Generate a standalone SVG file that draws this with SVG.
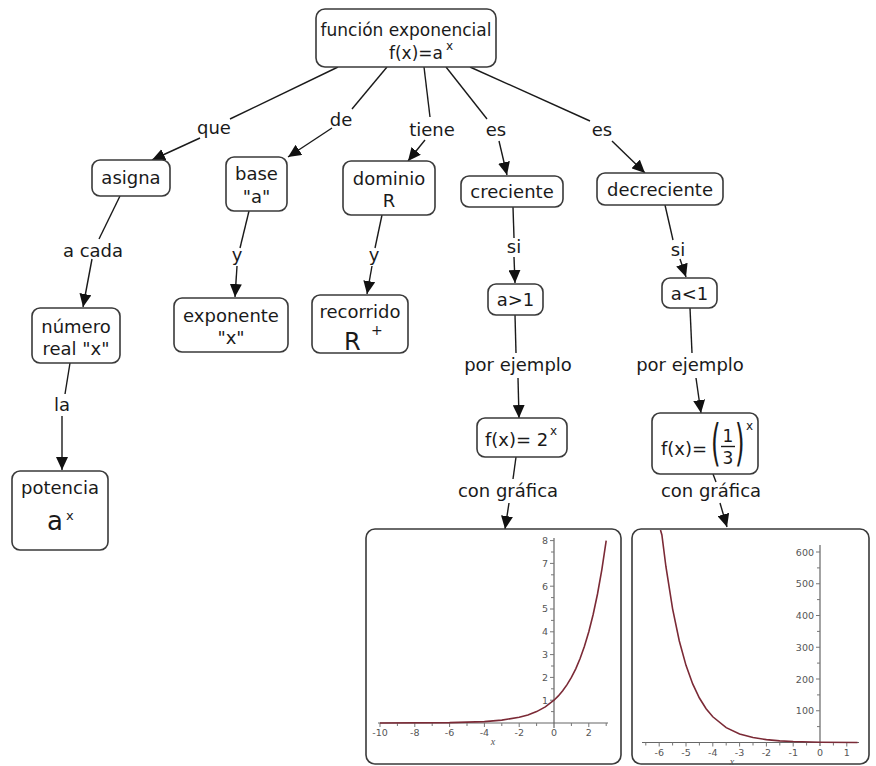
<svg xmlns="http://www.w3.org/2000/svg" width="876" height="766" viewBox="0 0 876 766">
  <defs>
    <marker id="arrow" markerUnits="userSpaceOnUse" markerWidth="14" markerHeight="12" refX="13" refY="6" orient="auto">
      <path d="M0,0 L13,6 L0,12 Z" fill="#111"/>
    </marker>
    <clipPath id="clipGrow"><rect x="367" y="530" width="254" height="233"/></clipPath>
    <clipPath id="clipDecay"><rect x="633" y="530" width="236" height="233"/></clipPath>
    <style>
      .box { fill: #fff; stroke: #3a3a3a; stroke-width: 1.6; }
      .t { font-family: "DejaVu Sans", Verdana, sans-serif; font-size: 18px; fill: #1a1a1a; }
      .c { text-anchor: middle; }
      .sup { font-family: "DejaVu Sans", Verdana, sans-serif; font-size: 12px; fill: #1a1a1a; }
      .lbl { font-family: "DejaVu Sans", Verdana, sans-serif; font-size: 18px; fill: #1a1a1a; text-anchor: middle; }
      .link { stroke: #1a1a1a; stroke-width: 1.4; fill: none; }
      .axis { stroke: #666; stroke-width: 1.2; fill: none; }
      .tick { stroke: #777; stroke-width: 1; fill: none; }
      .num { font-family: "DejaVu Sans", Verdana, sans-serif; font-size: 9.5px; fill: #555; }
      .curve { stroke: #7b2a36; stroke-width: 1.6; fill: none; }
    </style>
  </defs>
  <rect width="876" height="766" fill="#fff"/>

  <!-- connectors -->
  <g id="connectors">
    <line class="link" x1="338" y1="67" x2="230" y2="119"/>
    <line class="link" x1="200" y1="138" x2="152" y2="160" marker-end="url(#arrow)"/>
    <line class="link" x1="387" y1="67" x2="352" y2="109"/>
    <line class="link" x1="332" y1="128" x2="288" y2="157" marker-end="url(#arrow)"/>
    <line class="link" x1="424" y1="67" x2="430" y2="117"/>
    <line class="link" x1="425" y1="140" x2="408" y2="161" marker-end="url(#arrow)"/>
    <line class="link" x1="446" y1="67" x2="487" y2="119"/>
    <line class="link" x1="499" y1="141" x2="507" y2="175" marker-end="url(#arrow)"/>
    <line class="link" x1="470" y1="67" x2="590" y2="121"/>
    <line class="link" x1="612" y1="141" x2="645" y2="173" marker-end="url(#arrow)"/>

    <line class="link" x1="120" y1="196" x2="99" y2="239"/>
    <line class="link" x1="92" y1="259" x2="83" y2="307" marker-end="url(#arrow)"/>
    <line class="link" x1="70" y1="363" x2="65" y2="394"/>
    <line class="link" x1="62" y1="416" x2="62" y2="470" marker-end="url(#arrow)"/>
    <line class="link" x1="249" y1="211" x2="240" y2="248"/>
    <line class="link" x1="237" y1="266" x2="235" y2="297" marker-end="url(#arrow)"/>
    <line class="link" x1="382" y1="215" x2="375" y2="248"/>
    <line class="link" x1="372" y1="266" x2="367" y2="294" marker-end="url(#arrow)"/>
    <line class="link" x1="513" y1="207" x2="514" y2="238"/>
    <line class="link" x1="514" y1="257" x2="515" y2="283" marker-end="url(#arrow)"/>
    <line class="link" x1="665" y1="205" x2="673" y2="240"/>
    <line class="link" x1="680" y1="259" x2="686" y2="277" marker-end="url(#arrow)"/>
    <line class="link" x1="515" y1="315" x2="516" y2="353"/>
    <line class="link" x1="518" y1="378" x2="519" y2="418" marker-end="url(#arrow)"/>
    <line class="link" x1="690" y1="308" x2="692" y2="353"/>
    <line class="link" x1="696" y1="378" x2="701" y2="413" marker-end="url(#arrow)"/>
    <line class="link" x1="516" y1="457" x2="513" y2="479"/>
    <line class="link" x1="509" y1="503" x2="505" y2="529" marker-end="url(#arrow)"/>
    <line class="link" x1="713" y1="474" x2="716" y2="482"/>
    <line class="link" x1="720" y1="503" x2="727" y2="527" marker-end="url(#arrow)"/>
  </g>

  <!-- linking phrases -->
  <g id="link-labels">
    <text class="lbl" x="214" y="134">que</text>
    <text class="lbl" x="341" y="126">de</text>
    <text class="lbl" x="432" y="136">tiene</text>
    <text class="lbl" x="496" y="136">es</text>
    <text class="lbl" x="602" y="136">es</text>
    <text class="lbl" x="93" y="257">a cada</text>
    <text class="lbl" x="62" y="411">la</text>
    <text class="lbl" x="237" y="261">y</text>
    <text class="lbl" x="374" y="261">y</text>
    <text class="lbl" x="514" y="253">si</text>
    <text class="lbl" x="678" y="256">si</text>
    <text class="lbl" x="518" y="371">por ejemplo</text>
    <text class="lbl" x="690" y="371">por ejemplo</text>
    <text class="lbl" x="508" y="497">con gráfica</text>
    <text class="lbl" x="711" y="497">con gráfica</text>
  </g>

  <!-- concepts -->
  <g id="n-top">
    <rect class="box" x="316" y="9" width="180" height="58" rx="9"/>
    <text class="t c" x="406" y="36" style="font-size:17px">función exponencial</text>
    <text class="t" x="389" y="59" style="font-size:17px">f(x)=a</text>
    <text class="sup" x="446" y="50">x</text>
  </g>
  <g id="n-asigna">
    <rect class="box" x="92" y="160" width="78" height="36" rx="8"/>
    <text class="t c" x="131" y="184">asigna</text>
  </g>
  <g id="n-numero">
    <rect class="box" x="32" y="308" width="88" height="55" rx="8"/>
    <text class="t c" x="76" y="333">número</text>
    <text class="t c" x="76" y="355">real "x"</text>
  </g>
  <g id="n-potencia">
    <rect class="box" x="12" y="471" width="96" height="79" rx="8"/>
    <text class="t c" x="60" y="494">potencia</text>
    <text class="t" x="47" y="530" style="font-size:26px">a</text>
    <text class="sup" x="66" y="520" style="font-size:13px">x</text>
  </g>
  <g id="n-base">
    <rect class="box" x="226" y="157" width="61" height="54" rx="8"/>
    <text class="t c" x="256.5" y="180">base</text>
    <text class="t c" x="256.5" y="203">"a"</text>
  </g>
  <g id="n-exponente">
    <rect class="box" x="174" y="298" width="114" height="54" rx="8"/>
    <text class="t c" x="231" y="322">exponente</text>
    <text class="t c" x="231" y="344">"x"</text>
  </g>
  <g id="n-dominio">
    <rect class="box" x="343" y="161" width="92" height="54" rx="8"/>
    <text class="t c" x="389" y="185">dominio</text>
    <text class="t c" x="389" y="207">R</text>
  </g>
  <g id="n-recorrido">
    <rect class="box" x="312" y="295" width="96" height="58" rx="8"/>
    <text class="t c" x="360" y="318">recorrido</text>
    <text class="t" x="344" y="350" style="font-size:24px">R</text>
    <text class="sup" x="371" y="335" style="font-size:14px">+</text>
  </g>
  <g id="n-creciente">
    <rect class="box" x="461" y="176" width="102" height="31" rx="8"/>
    <text class="t c" x="512" y="198">creciente</text>
  </g>
  <g id="n-decreciente">
    <rect class="box" x="597" y="173" width="126" height="32" rx="8"/>
    <text class="t c" x="660" y="196">decreciente</text>
  </g>
  <g id="n-a-gt-1">
    <rect class="box" x="488" y="284" width="55" height="31" rx="8"/>
    <text class="t c" x="515.5" y="306">a&gt;1</text>
  </g>
  <g id="n-a-lt-1">
    <rect class="box" x="662" y="278" width="55" height="30" rx="8"/>
    <text class="t c" x="689.5" y="300">a&lt;1</text>
  </g>
  <g id="n-f-2x">
    <rect class="box" x="477" y="418" width="90" height="39" rx="8"/>
    <text class="t" x="485" y="446">f(x)= 2</text>
    <text class="sup" x="550" y="435">x</text>
  </g>
  <g id="n-f-third">
    <rect class="box" x="652" y="413" width="106" height="61" rx="8"/>
    <text class="t" x="661" y="455">f(x)=</text>
    <text class="t" transform="translate(711,460) scale(0.5,1)" style="font-size:49px">(</text>
    <text class="t" transform="translate(735,460) scale(0.5,1)" style="font-size:49px">)</text>
    <text class="t c" x="728" y="442" style="font-size:17px">1</text>
    <line x1="721" y1="446.5" x2="735" y2="446.5" stroke="#1a1a1a" stroke-width="1.4"/>
    <text class="t c" x="728" y="464" style="font-size:17px">3</text>
    <text class="sup" x="746" y="430">x</text>
  </g>

  <!-- plot of 2^x -->
  <g id="n-graph-grow">
    <rect class="box" x="366" y="529" width="255" height="235" rx="9"/>
    <path class="axis" d="M378,723 H608 M554,728 V538"/>
    <path class="tick" d="M380,723v4 M397.4,723v3 M414.8,723v4 M432.2,723v3 M449.6,723v4 M467,723v3 M484.4,723v4 M501.8,723v3 M519.2,723v4 M536.6,723v3 M571.4,723v3 M588.8,723v4 M606.2,723v3
      M551,711.6h3 M550,700.2h4 M551,688.8h3 M550,677.4h4 M551,666h3 M550,654.6h4 M551,643.2h3 M550,631.8h4 M551,620.4h3 M550,609h4 M551,597.6h3 M550,586.2h4 M551,574.8h3 M550,563.4h4 M551,552h3 M550,540.6h4"/>
    <g class="num" text-anchor="middle">
      <text x="380" y="736">-10</text>
      <text x="414.8" y="736">-8</text>
      <text x="449.6" y="736">-6</text>
      <text x="484.4" y="736">-4</text>
      <text x="519.2" y="736">-2</text>
      <text x="554" y="736">0</text>
      <text x="588.8" y="736">2</text>
    </g>
    <g class="num" text-anchor="end">
      <text x="548" y="703.5">1</text>
      <text x="548" y="680.7">2</text>
      <text x="548" y="657.9">3</text>
      <text x="548" y="635.1">4</text>
      <text x="548" y="612.3">5</text>
      <text x="548" y="589.5">6</text>
      <text x="548" y="566.7">7</text>
      <text x="548" y="543.9">8</text>
    </g>
    <text x="493" y="745" style="font-family:'Liberation Serif',serif;font-style:italic;font-size:10px;fill:#555" text-anchor="middle">x</text>
    <polyline class="curve" clip-path="url(#clipGrow)" points="380,723 449.6,722.6 484.4,721.6 501.8,720.15 519.2,717.3 527.9,714.94 536.6,711.6 545.3,706.88 554,700.2 558.35,695.9 562.7,690.76 567.05,684.65 571.4,677.4 575.75,668.8 580.1,658.5 584.45,646.3 588.8,631.8 593.15,614.5 597.5,594 601.85,569.6 606.2,540.6"/>
  </g>

  <!-- plot of (1/3)^x -->
  <g id="n-graph-decay">
    <rect class="box" x="632" y="529" width="237" height="235" rx="9"/>
    <path class="axis" d="M642,742.5 H859 M820,746 V545"/>
    <path class="tick" d="M645.8,742.5v3 M659.2,742.5v4 M672.6,742.5v3 M686,742.5v4 M699.4,742.5v3 M712.8,742.5v4 M726.2,742.5v3 M739.6,742.5v4 M753,742.5v3 M766.4,742.5v4 M779.8,742.5v3 M793.2,742.5v4 M806.6,742.5v3 M833.4,742.5v3 M846.8,742.5v4
      M817,726.6h3 M816,710.75h4 M817,694.9h3 M816,679h4 M817,663.1h3 M816,647.25h4 M817,631.4h3 M816,615.5h4 M817,599.6h3 M816,583.75h4 M817,567.9h3 M816,552h4"/>
    <g class="num" text-anchor="middle">
      <text x="659.2" y="756">-6</text>
      <text x="686" y="756">-5</text>
      <text x="712.8" y="756">-4</text>
      <text x="739.6" y="756">-3</text>
      <text x="766.4" y="756">-2</text>
      <text x="793.2" y="756">-1</text>
      <text x="820" y="756">0</text>
      <text x="846.8" y="756">1</text>
    </g>
    <g class="num" text-anchor="end">
      <text x="814" y="714">100</text>
      <text x="814" y="682.5">200</text>
      <text x="814" y="650.5">300</text>
      <text x="814" y="619">400</text>
      <text x="814" y="587">500</text>
      <text x="814" y="555.5">600</text>
    </g>
    <text x="732" y="765" style="font-family:'Liberation Serif',serif;font-style:italic;font-size:10px;fill:#555" text-anchor="middle">x</text>
    <polyline class="curve" clip-path="url(#clipDecay)" points="660.5,530 661.9,535 665.9,566.5 672.6,608.8 679.3,641 686,665.35 692.7,683.9 699.4,698 706.1,708.7 712.8,716.8 726.2,727.65 739.6,733.93 753,737.55 766.4,739.64 779.8,740.85 793.2,741.55 820,742.18 857.5,742.43"/>
  </g>
</svg>
